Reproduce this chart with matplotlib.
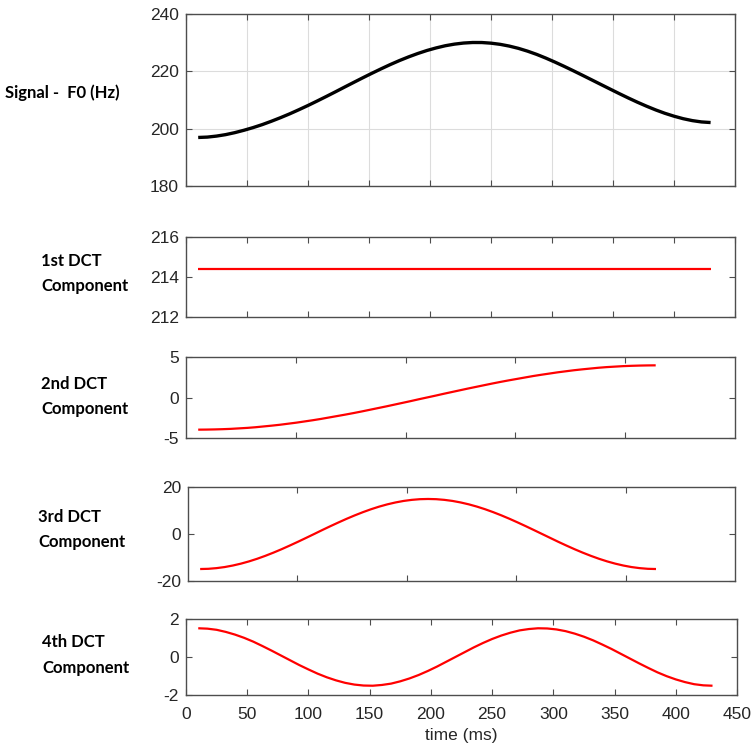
import matplotlib
matplotlib.use("Agg")
import matplotlib.pyplot as plt

plt.rcParams["axes.unicode_minus"] = False

# time axis (ms) for the signal, 1st and 4th components
t_full = [10, 17.5, 25, 32.5, 40, 47.5, 55, 62.5, 70, 77.5, 85, 92.5, 100, 107.5,
          115, 122.5, 130, 137.5, 145, 152.5, 160, 167.5, 175, 182.5, 190, 197.5,
          205, 212.5, 220, 227.5, 235, 242.5, 250, 257.5, 265, 272.5, 280, 287.5,
          295, 302.5, 310, 317.5, 325, 332.5, 340, 347.5, 355, 362.5, 370, 377.5,
          385, 392.5, 400, 407.5, 415, 422.5, 430]
# 2nd and 3rd components sit on a squeezed time axis in the original figure
t_short = [10.0, 16.7, 23.4, 30.1, 36.8, 43.5, 50.2, 56.9, 63.6, 70.3, 77.0, 83.7,
           90.4, 97.1, 103.8, 110.4, 117.1, 123.8, 130.5, 137.2, 143.9, 150.6,
           157.3, 164.0, 170.7, 177.4, 184.1, 190.8, 197.5, 204.2, 210.9, 217.6,
           224.3, 231.0, 237.7, 244.4, 251.1, 257.8, 264.5, 271.2, 277.9, 284.6,
           291.3, 298.0, 304.6, 311.3, 318.0, 324.7, 331.4, 338.1, 344.8, 351.5,
           358.2, 364.9, 371.6, 378.3, 385.0]

f0 = [196.90, 197.03, 197.38, 197.89, 198.58, 199.41, 200.34, 201.38, 202.55,
      203.80, 205.13, 206.56, 208.04, 209.59, 211.18, 212.80, 214.45, 216.08,
      217.70, 219.28, 220.82, 222.30, 223.69, 224.97, 226.14, 227.19, 228.08,
      228.84, 229.40, 229.78, 229.97, 229.96, 229.74, 229.33, 228.72, 227.93,
      226.95, 225.82, 224.53, 223.13, 221.66, 220.13, 218.56, 216.97, 215.37,
      213.78, 212.20, 210.66, 209.18, 207.79, 206.49, 205.32, 204.31, 203.44,
      202.77, 202.31, 202.10]
dct1 = [214.4] * 57
dct2 = [-4.00, -3.99, -3.97, -3.94, -3.90, -3.84, -3.78, -3.70, -3.60, -3.50,
        -3.39, -3.26, -3.13, -2.98, -2.83, -2.67, -2.49, -2.31, -2.13, -1.94,
        -1.74, -1.53, -1.32, -1.11, -0.89, -0.67, -0.45, -0.22, 0.00, 0.22, 0.45,
        0.67, 0.89, 1.11, 1.32, 1.53, 1.74, 1.94, 2.13, 2.31, 2.49, 2.67, 2.83,
        2.98, 3.13, 3.26, 3.39, 3.50, 3.60, 3.70, 3.78, 3.84, 3.90, 3.94, 3.97,
        3.99, 4.00]
dct3 = [-15.00, -14.91, -14.62, -14.16, -13.51, -12.70, -11.73, -10.61, -9.35,
        -7.98, -6.51, -4.95, -3.34, -1.68, 0.00, 1.68, 3.34, 4.95, 6.51, 7.98,
        9.35, 10.61, 11.73, 12.70, 13.51, 14.16, 14.62, 14.91, 15.00, 14.91,
        14.62, 14.16, 13.51, 12.70, 11.73, 10.61, 9.35, 7.98, 6.51, 4.95, 3.34,
        1.68, 0.00, -1.68, -3.34, -4.95, -6.51, -7.98, -9.35, -10.61, -11.73,
        -12.70, -13.51, -14.16, -14.62, -14.91, -15.00]
dct4 = [1.50, 1.48, 1.42, 1.31, 1.17, 1.00, 0.80, 0.57, 0.33, 0.08, -0.17, -0.42,
        -0.65, -0.87, -1.06, -1.22, -1.35, -1.44, -1.49, -1.50, -1.46, -1.39,
        -1.27, -1.12, -0.94, -0.73, -0.50, -0.25, 0.00, 0.25, 0.50, 0.73, 0.94,
        1.12, 1.27, 1.39, 1.46, 1.50, 1.49, 1.44, 1.35, 1.22, 1.06, 0.87, 0.65,
        0.42, 0.17, -0.08, -0.33, -0.57, -0.80, -1.00, -1.17, -1.31, -1.42, -1.48,
        -1.50]

row_labels = ["Signal -  F0 (Hz)", "1st DCT\nComponent", "2nd DCT\nComponent",
              "3rd DCT\nComponent", "4th DCT\nComponent"]
ylims = [(180, 240), (212, 216), (-5, 5), (-20, 20), (-2, 2)]
yticks = [[180, 200, 220, 240], [212, 214, 216], [-5, 0, 5], [-20, 0, 20], [-2, 0, 2]]

W, H = 754, 752
# axes boxes in pixels: left, right, top, bottom
boxes = [(186, 735, 13.7, 186), (186, 735, 236.7, 316.7), (186, 735, 357.3, 437.7),
         (188, 735, 487.3, 580.7), (186, 737, 618.7, 695.3)]
# row label anchor (left x, centre y)
label_pos = [(5, 93), (41, 273.5), (41, 396.5), (38.5, 529.5), (42, 655)]

AX_COL = "#4d4d4d"
TXT_COL = "#262626"

fig = plt.figure(figsize=(W / 100, H / 100), dpi=100)

series = [(t_full, f0, "black", 2.4), (t_full, dct1, "#ff0000", 1.6),
          (t_short, dct2, "#ff0000", 1.6), (t_short, dct3, "#ff0000", 1.6),
          (t_full, dct4, "#ff0000", 1.6)]

for i, (x, y, col, lw) in enumerate(series):
    l, r, t, b = boxes[i]
    ax = fig.add_axes([l / W, 1 - b / H, (r - l) / W, (b - t) / H])
    ax.plot(x, y, color=col, lw=lw, solid_capstyle="butt")
    ax.set_xlim(0, 450)
    ax.set_ylim(*ylims[i])
    ax.set_yticks(yticks[i])
    if i in (2, 3):
        ax.set_xticks([90, 180, 270, 360])
    else:
        ax.set_xticks(range(0, 451, 50))
    if i == 0:
        ax.grid(True, color="#dcdcdc", lw=0.8)
    ax.tick_params(direction="in", length=4, width=0.8, color=AX_COL,
                   top=True, right=True, labelsize=12.5, labelcolor=TXT_COL)
    ax.tick_params(axis="y", pad=5)
    ax.tick_params(axis="x", pad=8.5)
    for s in ax.spines.values():
        s.set_color(AX_COL)
        s.set_linewidth(1.0)
    for lab in ax.get_yticklabels() + ax.get_xticklabels():
        lab.set_family("Liberation Sans")
    if i < 4:
        ax.set_xticklabels([])
    else:
        ax.set_xlabel("time (ms)", fontsize=12.5, color=TXT_COL,
                      family="Liberation Sans", labelpad=4)

    lx, ly = label_pos[i]
    fig.text(lx / W, 1 - ly / H, row_labels[i], ha="left", va="center",
             fontsize=12, fontweight="bold", family="Lato",
             linespacing=1.7, color="black")

fig.savefig("out.png", dpi=100)
